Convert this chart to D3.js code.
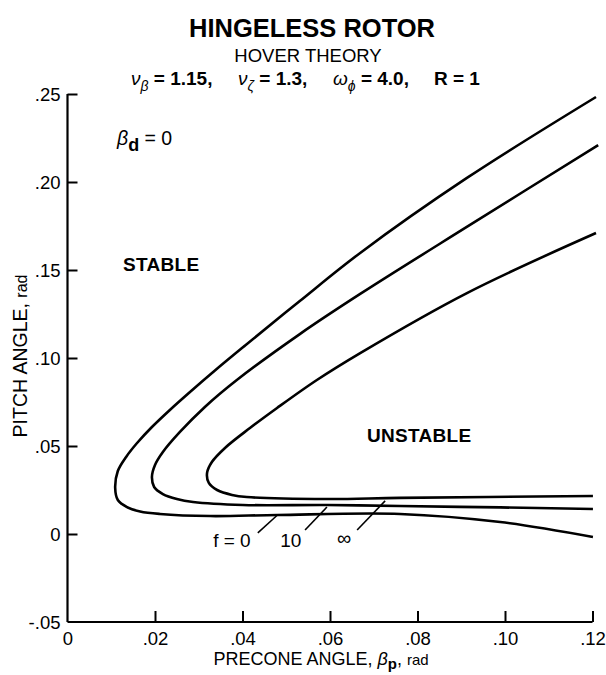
<!DOCTYPE html>
<html><head><meta charset="utf-8">
<script src="https://cdn.jsdelivr.net/npm/d3@7"></script>
<style>
html,body{margin:0;padding:0;background:#fff;}
svg{display:block;font-family:"Liberation Sans",Arial,Helvetica,sans-serif;}
</style></head>
<body>
<svg id="c" width="606" height="675"></svg>
<script>
// ---- data (beta_p [rad], pitch angle [rad]) ----
const curveF0 = [[0.1208,0.2483],[0.0913,0.2023],[0.0669,0.1597],[0.0531,0.1324],[0.0406,0.1071],[0.0337,0.0929],[0.0280,0.0807],[0.0234,0.0705],[0.0193,0.0608],[0.0159,0.0517],[0.0134,0.0438],[0.0115,0.0358],[0.0109,0.0261],[0.0115,0.0193],[0.0136,0.0153],[0.0166,0.0128],[0.0211,0.0114],[0.0326,0.0102],[0.0479,0.0108],[0.0760,0.0114],[0.0989,0.0068],[0.1201,-0.0017]];
const curveF10 = [[0.1213,0.2210],[0.0920,0.1756],[0.0669,0.1364],[0.0531,0.1136],[0.0387,0.0875],[0.0314,0.0722],[0.0257,0.0580],[0.0218,0.0466],[0.0200,0.0392],[0.0193,0.0324],[0.0198,0.0267],[0.0218,0.0227],[0.0250,0.0199],[0.0287,0.0182],[0.0401,0.0165],[0.0593,0.0165],[0.0760,0.0159],[0.0989,0.0151],[0.1201,0.0142]];
const curveFinf = [[0.1208,0.1710],[0.0913,0.1369],[0.0669,0.1028],[0.0570,0.0875],[0.0479,0.0716],[0.0417,0.0602],[0.0360,0.0489],[0.0330,0.0409],[0.0319,0.0347],[0.0323,0.0290],[0.0342,0.0250],[0.0376,0.0222],[0.0410,0.0210],[0.0593,0.0199],[0.0760,0.0205],[0.1201,0.0216]];
const series = [curveF0, curveF10, curveFinf];
const xTicks = [0,0.02,0.04,0.06,0.08,0.10,0.12];
const xTickLabels = ["0",".02",".04",".06",".08",".10",".12"];
const yTicks = [-0.05,0,0.05,0.10,0.15,0.20,0.25];
const yTickLabels = ["-.05","0",".05",".10",".15",".20",".25"];
const curveLabels = ["f = 0","10","\u221E"];
const labelPos = [[0.0333,-0.0074],[0.0486,-0.0074],[0.0616,-0.0063]];
const leaders = [[[0.0435,0.0006],[0.0480,0.0108]],[[0.0543,0.0023],[0.0593,0.0153]],[[0.0662,0.0023],[0.0726,0.0188]]];

const svg = d3.select("#c");
const x = d3.scaleLinear().domain([0,0.12]).range([67.5,592.5]);
const y = d3.scaleLinear().domain([-0.05,0.25]).range([622,94]);

// axes
const ax = svg.append("g").attr("transform",`translate(0,${y(-0.05)})`)
  .call(d3.axisBottom(x).tickValues(xTicks).tickSize(-11).tickFormat((d,i)=>xTickLabels[i]).tickPadding(10));
const ay = svg.append("g").attr("transform",`translate(${x(0)},0)`)
  .call(d3.axisLeft(y).tickValues(yTicks).tickSize(-10).tickFormat((d,i)=>yTickLabels[i]).tickPadding(7));
[ax,ay].forEach(g=>{
  g.select(".domain").attr("stroke","#000").attr("stroke-width",2.2).attr("d", g===ax ? `M${x(0)},0H${x(0.12)}` : `M0,${y(-0.05)}V${y(0.25)}`);
  g.selectAll(".tick line").attr("stroke","#000").attr("stroke-width",2);
  g.selectAll(".tick text").attr("fill","#000").attr("font-size",18.5).attr("font-family",'"Liberation Sans",Arial,sans-serif');
});
ax.selectAll(".tick").filter(d=>d===0).select("line").remove();
ay.selectAll(".tick").filter(d=>d===-0.05).select("line").remove();
ay.selectAll(".tick text").attr("dy","0.35em");

// curves
const line = d3.line().x(d=>x(d[0])).y(d=>y(d[1])).curve(d3.curveCatmullRom.alpha(0.5));
svg.append("g").selectAll("path").data(series).join("path")
  .attr("d",line).attr("fill","none").attr("stroke","#000").attr("stroke-width",2.6).attr("stroke-linejoin","round");

// leaders & labels
svg.append("g").selectAll("line").data(leaders).join("line")
  .attr("x1",d=>x(d[0][0])).attr("y1",d=>y(d[0][1])).attr("x2",d=>x(d[1][0])).attr("y2",d=>y(d[1][1]))
  .attr("stroke","#000").attr("stroke-width",1.6);
svg.append("g").selectAll("text").data(curveLabels).join("text")
  .attr("x",(d,i)=>x(labelPos[i][0])).attr("y",(d,i)=>y(labelPos[i][1]))
  .attr("font-size",(d,i)=>i===2?20:19).text(d=>d);

// titles
svg.append("text").attr("x",312).attr("y",37).attr("text-anchor","middle").attr("font-size",25.5).attr("font-weight","bold").text("HINGELESS ROTOR");
svg.append("text").attr("x",308).attr("y",62).attr("text-anchor","middle").attr("font-size",18.5).text("HOVER THEORY");
const params = [["\u03BD","\u03B2"," = 1.15,",131],["\u03BD","\u03B6"," = 1.3,",238],["\u03C9","\u03D5"," = 4.0,",333],["","","R = 1",434]];
const pg = svg.append("g").attr("font-size",19).attr("font-weight","bold");
params.forEach(([g,sub,rest,px])=>{
  const t = pg.append("text").attr("x",px).attr("y",85);
  if(g){ t.append("tspan").attr("font-style","italic").attr("font-weight","normal").text(g);
    t.append("tspan").attr("font-size",14).attr("font-weight","normal").attr("font-style","italic").attr("dy",6).text(sub);
    t.append("tspan").attr("dy",-6).text(rest); }
  else t.text(rest);
});

const bd = svg.append("text").attr("x",117).attr("y",145).attr("font-size",19.5);
bd.append("tspan").attr("font-style","italic").text("\u03B2");
bd.append("tspan").attr("font-size",18).attr("font-weight","bold").attr("dy",6).text("d");
bd.append("tspan").attr("dy",-6).text(" = 0");

svg.append("text").attr("x",123).attr("y",271).attr("font-size",19).attr("font-weight","bold").attr("letter-spacing",0.3).text("STABLE");
svg.append("text").attr("x",367).attr("y",442).attr("font-size",19).attr("font-weight","bold").attr("letter-spacing",0.3).text("UNSTABLE");

const xl = svg.append("text").attr("x",321).attr("y",665).attr("text-anchor","middle").attr("font-size",18);
xl.append("tspan").text("PRECONE ANGLE, ");
xl.append("tspan").attr("font-style","italic").text("\u03B2");
xl.append("tspan").attr("font-size",15).attr("font-weight","bold").attr("dy",4).text("p");
xl.append("tspan").attr("dy",-4).text(",  ");
xl.append("tspan").attr("font-size",15).text("rad");

const yl = svg.append("text").attr("transform","translate(27,356) rotate(-90)").attr("text-anchor","middle").attr("font-size",19.5);
yl.append("tspan").text("PITCH ANGLE, ");
yl.append("tspan").attr("font-size",16).text("rad");
</script>
</body></html>
